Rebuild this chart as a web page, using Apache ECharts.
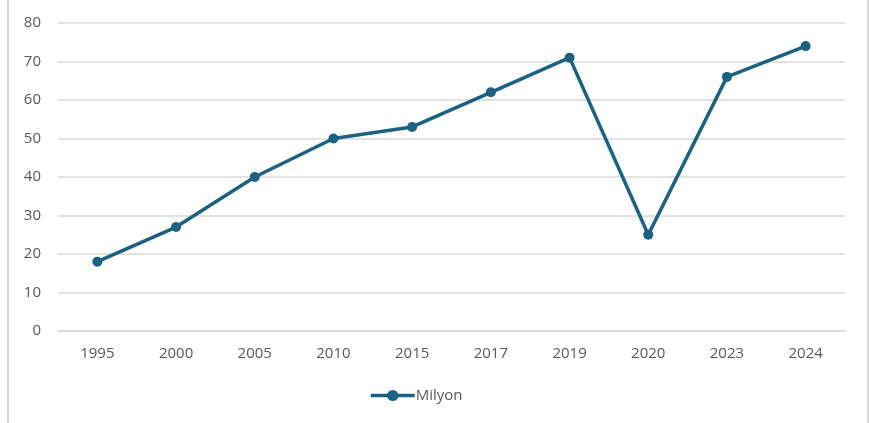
<!DOCTYPE html>
<html><head><meta charset="utf-8">
<script src="https://cdn.jsdelivr.net/npm/echarts@6/dist/echarts.min.js"></script>
<style>html,body{margin:0;padding:0;background:#fff;}
#frame{position:absolute;left:7px;top:-2px;width:858px;height:430px;border-left:2px solid #d9d9d9;border-right:2px solid #d9d9d9;}
#c{position:absolute;left:0;top:0;width:869px;height:423px;}</style>
</head><body>
<div id="frame"></div>
<div id="c"></div>
<script>
const categories = ['1995','2000','2005','2010','2015','2017','2019','2020','2023','2024'];
const values = [18, 27, 40, 50, 53, 62, 71, 25, 66, 74];
const seriesName = 'Milyon';
const chart = echarts.init(document.getElementById('c'));
const color = '#1b6183';
const font = 'Open Sans';
chart.setOption({
  animation: false,
  grid: {left: 58, right: 24, top: 23, bottom: 92},
  xAxis: {
    type: 'category', data: categories, boundaryGap: true,
    axisLine: {show: true, lineStyle: {color: '#d9d9d9', width: 1.5}},
    axisTick: {show: false},
    axisLabel: {color: '#595959', fontSize: 15, margin: 15, fontFamily: font}
  },
  yAxis: {
    type: 'value', min: 0, max: 80, interval: 10,
    axisLine: {show: false}, axisTick: {show: false},
    splitLine: {lineStyle: {color: '#d9d9d9', width: 1.5}},
    axisLabel: {color: '#595959', fontSize: 15, margin: 17, fontFamily: font}
  },
  legend: {
    bottom: 15, left: 364, itemWidth: 44, itemHeight: 14, itemGap: 4,
    textStyle: {color: '#595959', fontSize: 15, fontFamily: font, padding: [0,0,0,-4]},
    lineStyle: {width: 3.5, color: color},
    itemStyle: {color: color},
    data: [{name: seriesName}]
  },
  series: [{
    name: seriesName, type: 'line', data: values,
    lineStyle: {color: color, width: 3.5},
    itemStyle: {color: color},
    symbol: 'circle', symbolSize: 10
  }]
});
</script>
</body></html>
